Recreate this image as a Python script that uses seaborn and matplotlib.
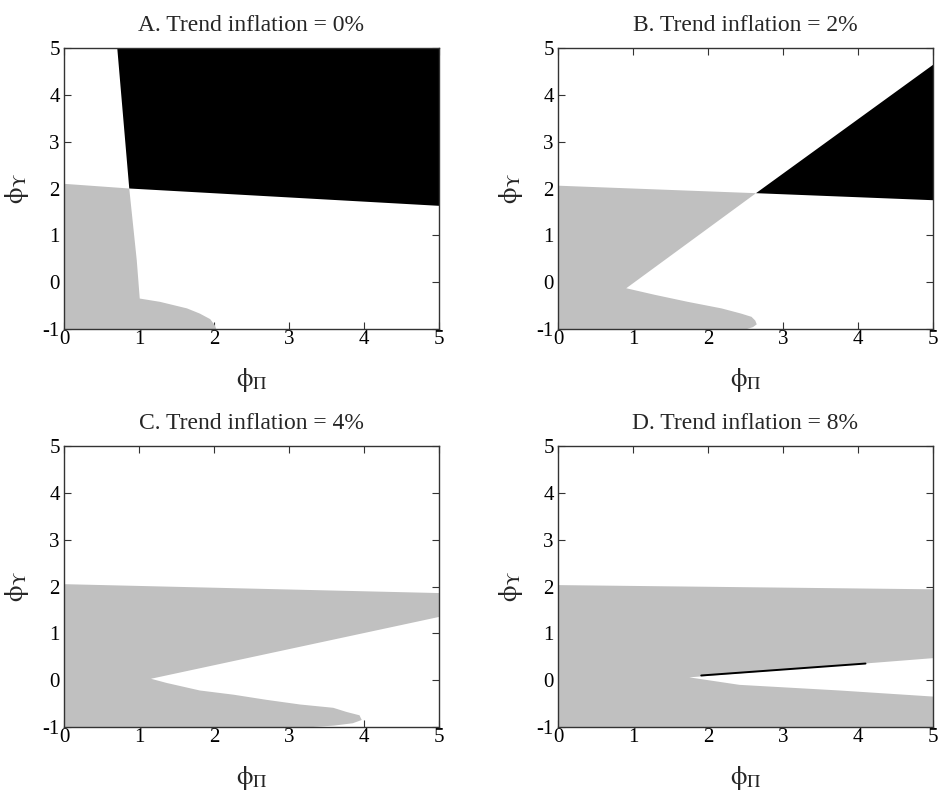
import matplotlib
matplotlib.use("Agg")
import matplotlib.pyplot as plt
import seaborn as sns

# boundaries of the determinacy regions (phi_pi, phi_y)
titles = ['A. Trend inflation = 0%', 'B. Trend inflation = 2%',
          'C. Trend inflation = 4%', 'D. Trend inflation = 8%']

gray_a_x = [0, 0, 0.87, 0.97, 1.01, 1.28, 1.64, 1.81, 1.95, 2.01, 2.03]
gray_a_y = [-1, 2.10, 2.00, 0.47, -0.35, -0.42, -0.56, -0.67, -0.79, -0.92, -1]
black_a_x = [0.71, 0.87, 5, 5]
black_a_y = [5, 2.00, 1.63, 5]

gray_b_x = [0, 0, 2.64, 0.91, 1.29, 1.73, 2.18, 2.44, 2.58, 2.63, 2.65, 2.60, 2.52]
gray_b_y = [-1, 2.06, 1.90, -0.13, -0.27, -0.42, -0.56, -0.67, -0.74, -0.82, -0.90, -0.96, -1]
black_b_x = [2.64, 5, 5]
black_b_y = [1.90, 4.64, 1.75]

gray_c_x = [0, 0, 5, 5, 1.16, 1.37, 1.81, 2.26, 2.70, 3.15, 3.59, 3.77, 3.94, 3.97, 3.85, 3.60, 3.32]
gray_c_y = [-1, 2.05, 1.86, 1.35, 0.03, -0.06, -0.22, -0.31, -0.42, -0.52, -0.59, -0.68, -0.75, -0.85, -0.92, -0.97, -1]
black_c_x = []
black_c_y = []

gray_d_x = [0, 0, 5, 5, 1.75, 2.42, 3.75, 5, 5]
gray_d_y = [-1, 2.03, 1.94, 0.47, 0.06, -0.10, -0.22, -0.35, -1]
black_d_x = [1.91, 4.10]
black_d_y = [0.10, 0.355]

gray_x = [gray_a_x, gray_b_x, gray_c_x, gray_d_x]
gray_y = [gray_a_y, gray_b_y, gray_c_y, gray_d_y]
black_x = [black_a_x, black_b_x, black_c_x, black_d_x]
black_y = [black_a_y, black_b_y, black_c_y, black_d_y]

x_ticks = [0, 1, 2, 3, 4, 5]
y_ticks = [-1, 0, 1, 2, 3, 4, 5]

sns.set_theme(style='ticks')
plt.rcParams['font.family'] = ['Liberation Serif', 'DejaVu Serif']
plt.rcParams['mathtext.fontset'] = 'stix'
plt.rcParams['axes.unicode_minus'] = False

fig = plt.figure(figsize=(9.39, 7.93), dpi=100)
W, H = 939.0, 793.0
boxes = [(64, 48), (558, 48), (64, 446), (558, 446)]
aw, ah = 375, 281

for i in range(4):
    left, top = boxes[i]
    ax = fig.add_axes([left / W, 1 - (top + ah) / H, aw / W, ah / H])
    ax.set_facecolor('white')
    ax.fill(gray_x[i], gray_y[i], color='#c0c0c0', lw=0)
    if i in (0, 1):
        ax.fill(black_x[i], black_y[i], color='black', lw=0)
    elif i == 3:
        sns.lineplot(x=black_x[i], y=black_y[i], ax=ax, color='black', lw=1.4)
    ax.set_xlim(0, 5)
    ax.set_ylim(-1, 5)
    ax.set_xticks(x_ticks)
    ax.set_yticks(y_ticks)
    ax.set_xticklabels([str(t) for t in x_ticks])
    ax.set_yticklabels([str(t) for t in y_ticks])
    ax.tick_params(direction='in', top=True, right=True, length=5, width=0.8,
                   color='#333333', labelsize=15, labelcolor='black')
    ax.tick_params(axis='x', pad=1)
    ax.tick_params(axis='y', pad=3)
    for s in ax.spines.values():
        s.set_color('#333333')
        s.set_linewidth(1.0)
    ax.set_title(titles[i], fontsize=17, pad=12)
    ax.set_xlabel(r'$\mathrm{\phi}_{\Pi}$', fontsize=19, labelpad=12)
    ax.set_ylabel(r'$\mathrm{\phi}_{\Upsilon}$', fontsize=19, labelpad=8)

fig.savefig('out.png', dpi=100)
